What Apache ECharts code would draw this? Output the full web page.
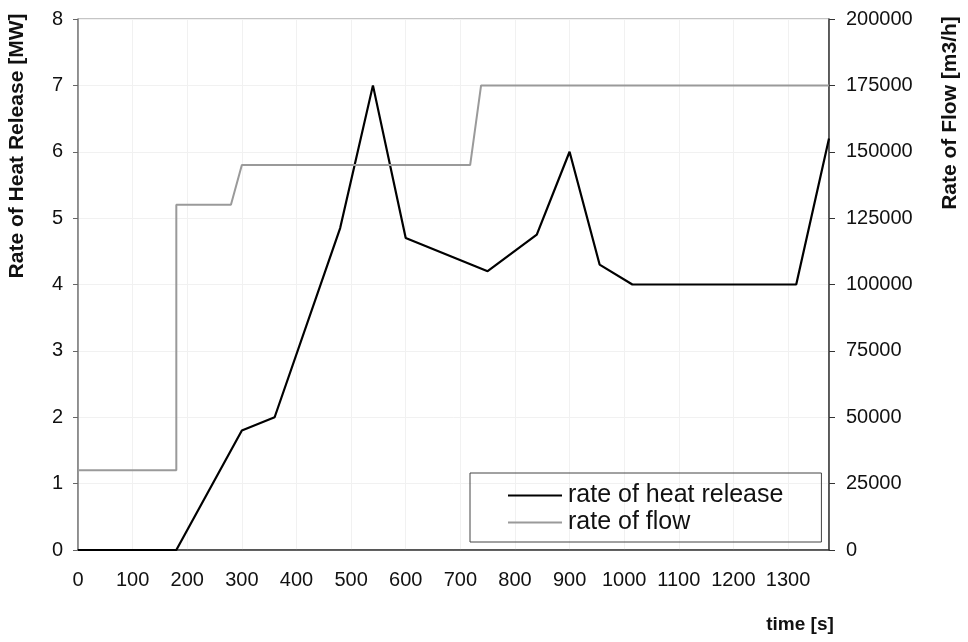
<!DOCTYPE html>
<html>
<head>
<meta charset="utf-8">
<script src="https://cdn.jsdelivr.net/npm/echarts@6/dist/echarts.min.js"></script>
<style>
  html, body { margin: 0; padding: 0; background: #fff; }
  #chart { width: 968px; height: 642px; }
</style>
</head>
<body>
<div id="chart"></div>
<script>
// time [s], rate of heat release [MW]
const heatTime = [0, 180, 300, 360, 480, 540, 600, 750, 840, 900, 955, 1015, 1315, 1375];
const heatValues = [0, 0, 1.8, 2.0, 4.85, 7.0, 4.7, 4.2, 4.75, 6.0, 4.3, 4.0, 4.0, 6.2];

// time [s], rate of flow [m3/h]
const flowTime = [0, 180, 180, 280, 300, 718, 738, 1375];
const flowValues = [30000, 30000, 130000, 130000, 145000, 145000, 175000, 175000];

const leftTicks = { min: 0, max: 8, interval: 1 };
const rightTicks = { min: 0, max: 200000, interval: 25000 };
const timeTicks = { min: 0, max: 1375, interval: 100 };

const font = "Liberation Sans, Arial, sans-serif";
const plain = (v) => String(v);

const chart = echarts.init(document.getElementById("chart"));
chart.setOption({
  animation: false,
  backgroundColor: "#fff",
  grid: {
    left: 78, right: 139, top: 19, bottom: 92,
    show: true, borderColor: "#8a8a8a", borderWidth: 1
  },
  legend: {
    orient: "vertical",
    left: 470, top: 473,
    padding: [10, 38, 7, 38],
    icon: "rect",
    itemWidth: 54, itemHeight: 2, itemGap: 2,
    borderColor: "#444", borderWidth: 1,
    textStyle: { fontFamily: font, fontSize: 25, color: "#111", padding: [0, 0, 0, 1] },
    data: ["rate of heat release", "rate of flow"]
  },
  xAxis: {
    type: "value",
    min: timeTicks.min, max: timeTicks.max, interval: timeTicks.interval,
    axisLine: { lineStyle: { color: "#333", width: 1.5 } },
    axisTick: { show: false },
    axisLabel: { showMaxLabel: false, margin: 20, fontFamily: font, fontSize: 20, color: "#111", formatter: plain },
    splitLine: { show: true, lineStyle: { color: "#f1f1f1" } }
  },
  yAxis: [
    {
      type: "value",
      min: leftTicks.min, max: leftTicks.max, interval: leftTicks.interval,
      axisLine: { show: true, lineStyle: { color: "#7a7a7a", width: 1.5 } },
      axisTick: { show: true, length: 5, lineStyle: { color: "#666" } },
      axisLabel: { margin: 15, fontFamily: font, fontSize: 20, color: "#111", formatter: plain },
      splitLine: { show: true, lineStyle: { color: "#f1f1f1" } }
    },
    {
      type: "value",
      position: "right",
      min: rightTicks.min, max: rightTicks.max, interval: rightTicks.interval,
      axisLine: { show: true, lineStyle: { color: "#333", width: 1.5 } },
      axisTick: { show: true, length: 6, lineStyle: { color: "#333" } },
      axisLabel: { margin: 17, fontFamily: font, fontSize: 20, color: "#111", formatter: plain },
      splitLine: { show: false }
    }
  ],
  series: [
    {
      name: "rate of heat release",
      type: "line",
      yAxisIndex: 0,
      symbol: "none",
      lineStyle: { color: "#000", width: 2.2 },
      itemStyle: { color: "#000" },
      data: heatTime.map((t, i) => [t, heatValues[i]])
    },
    {
      name: "rate of flow",
      type: "line",
      yAxisIndex: 1,
      symbol: "none",
      lineStyle: { color: "#9a9a9a", width: 2 },
      itemStyle: { color: "#9a9a9a" },
      data: flowTime.map((t, i) => [t, flowValues[i]])
    }
  ],
  graphic: [
    {
      type: "text", x: 17, y: 146, rotation: Math.PI / 2,
      style: {
        text: "Rate of Heat Release [MW]", fill: "#111",
        font: "bold 21px " + font, textAlign: "center", textVerticalAlign: "middle"
      }
    },
    {
      type: "text", x: 950, y: 113, rotation: Math.PI / 2,
      style: {
        text: "Rate of Flow [m3/h]", fill: "#111",
        font: "bold 21px " + font, textAlign: "center", textVerticalAlign: "middle"
      }
    },
    {
      type: "text", x: 800, y: 625,
      style: {
        text: "time [s]", fill: "#111",
        font: "bold 19px " + font, textAlign: "center", textVerticalAlign: "middle"
      }
    }
  ]
});

window.addEventListener("resize", () => chart.resize());
</script>
</body>
</html>
